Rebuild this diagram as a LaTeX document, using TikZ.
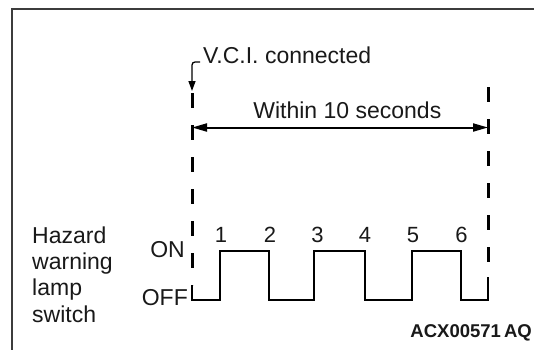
\documentclass[tikz,border=0pt]{standalone}
\usepackage{fontspec}
\setmainfont{Liberation Sans}
\usetikzlibrary{arrows.meta}
\definecolor{framegray}{RGB}{60,60,60}
\definecolor{ink}{RGB}{25,25,25}
\begin{document}
\begin{tikzpicture}[x=1pt,y=-1pt,
  lbl/.style={inner sep=0pt, text=ink, font=\fontsize{23}{26}\selectfont},
  num/.style={inner sep=0pt, text=ink, font=\fontsize{22}{24}\selectfont, anchor=base},
  dashline/.style={line width=3pt, dash pattern=on 15pt off 17pt},
  wave/.style={line width=2pt, line join=miter},
  dimarrow/.style={line width=2pt, {Triangle[length=15pt,width=8pt]}-{Triangle[length=15pt,width=8pt]}},
  hookarrow/.style={line width=1.3pt, rounded corners=3pt, -{Triangle[length=10pt,width=7pt]}},
]
\useasboundingbox (0,0) rectangle (534,349);
\clip (0,0) rectangle (534,349);
\fill[white] (0,0) rectangle (534,349);
\draw[framegray, line width=2pt] (12,360) -- (12,9) -- (545,9);

% guide lines
\coordinate (Ltop) at (192,93);
\coordinate (Lbot) at (192,285);
\coordinate (Rtop) at (488,87);
\coordinate (Rbot) at (488,277);
\draw[dashline] (Ltop) -- (Lbot);
\draw[dashline] (Rtop) -- (Rbot);

% V.C.I. connected
\node[lbl, anchor=base west] (vci) at (203,63) {V.C.I. connected};
\coordinate (hk) at (200,62);
\coordinate (hkend) at (192,91);
\draw[hookarrow] (hk) -- (192,62) -- (hkend);

% within 10 seconds
\node[lbl, anchor=base east] (within) at (441.5,118) {Within 10 seconds};
\coordinate (dimL) at (192,127.5);
\coordinate (dimR) at (488,127.5);
\draw[dimarrow] (dimL) -- (dimR);

% waveform
\draw[wave] (Lbot) -- (192,300) -- (220,300) -- (220,251) -- (269,251) -- (269,300)
  -- (314,300) -- (314,251) -- (365,251) -- (365,300) -- (412,300) -- (412,251)
  -- (461,251) -- (461,300) -- (488,300) -- (Rbot);

% numbers
\node[num] (n1) at (221,242) {1};
\node[num] (n2) at (270,242) {2};
\node[num] (n3) at (317.5,242) {3};
\node[num] (n4) at (365,242) {4};
\node[num] (n5) at (413,242) {5};
\node[num] (n6) at (461.5,242) {6};

% levels
\node[lbl, anchor=base east] (on) at (185,257.5) {ON};
\node[lbl, anchor=base east] (off) at (188,305) {OFF};

% side label
\node[lbl, anchor=base west] (h1) at (32,243) {Hazard};
\node[lbl, anchor=base west] (h2) at (32,269.3) {warning};
\node[lbl, anchor=base west] (h3) at (32,295.6) {lamp};
\node[lbl, anchor=base west] (h4) at (32,322) {switch};

% code
\node[inner sep=0pt, text=ink, anchor=base east, font=\fontsize{18.5}{20}\bfseries] (code) at (532,337) {ACX00571\,AQ};
\end{tikzpicture}
\end{document}
